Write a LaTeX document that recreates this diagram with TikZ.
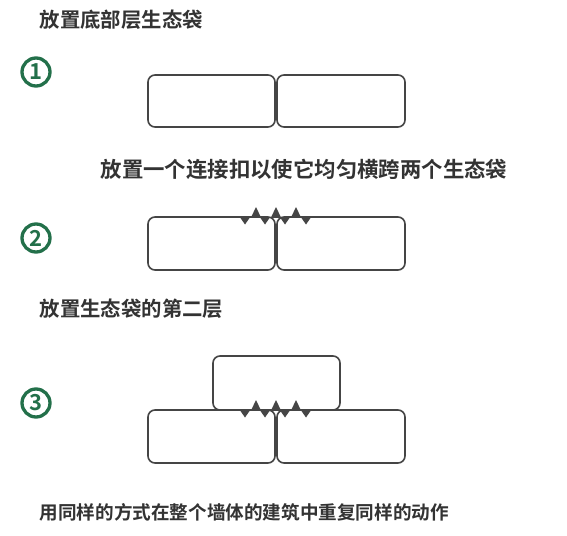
\documentclass[tikz,border=0pt]{standalone}
\usepackage{fontspec}
\newfontfamily\cjk{Noto Sans CJK SC}[BoldFont={Noto Sans CJK SC Bold}]
\definecolor{txtgray}{HTML}{333333}
\definecolor{linegray}{HTML}{454545}
\definecolor{stepgreen}{HTML}{23704A}
\tikzset{
  bag/.style={draw=linegray, line width=1.6pt, rounded corners=7pt, inner sep=0pt, fill=white},
  caption/.style={anchor=west, inner sep=0pt, text=txtgray},
  stepnum/.style={circle, draw=stepgreen, line width=3.3pt, minimum size=28pt, inner sep=0pt,
    text=stepgreen, font=\cjk\bfseries\fontsize{22}{22}\selectfont},
  connector/.pic={
    \fill[linegray] (-36,-0.2) -- (36,-0.2) -- (36,1) -- (-36,1) -- cycle;
    \foreach \u in {-20,0,20}{\fill[linegray] (\u-5,0.5) -- (\u,-10) -- (\u+5,0.5) -- cycle;}
    \foreach \d in {-31,-11,9,30}{\fill[linegray] (\d-5,0.3) -- (\d,7.5) -- (\d+5,0.3) -- cycle;}
  }
}
\begin{document}
\begin{tikzpicture}[x=1pt,y=-1pt]
\useasboundingbox[fill=white] (0,0) rectangle (567,535);
% captions
\node[caption, font=\cjk\bfseries\fontsize{20.4}{20.4}\selectfont] (t1) at (39.5,20) {放置底部层生态袋};
\node[caption, font=\cjk\bfseries\fontsize{21.4}{21.4}\selectfont] (t2) at (100.5,169) {放置一个连接扣以使它均匀横跨两个生态袋};
\node[caption, font=\cjk\bfseries\fontsize{20.4}{20.4}\selectfont] (t3) at (39.5,309) {放置生态袋的第二层};
\node[caption, font=\cjk\bfseries\fontsize{18.6}{18.6}\selectfont] (t4) at (39.5,512) {用同样的方式在整个墙体的建筑中重复同样的动作};
% step numbers
\node[stepnum] (n1) at (36,72) {1};
\node[stepnum] (n2) at (36,238) {2};
\node[stepnum] (n3) at (36,403) {3};
% row 1
\node[bag, minimum width=127pt, minimum height=52pt] (a1) at (211.5,101) {};
\node[bag, minimum width=128pt, minimum height=52pt] (a2) at (341,101) {};
% row 2
\node[bag, minimum width=127pt, minimum height=53pt] (b1) at (211.5,243.5) {};
\node[bag, minimum width=128pt, minimum height=53pt] (b2) at (341,243.5) {};
\coordinate (bc) at (276,217);
\pic at (bc) {connector};
% row 3
\node[bag, minimum width=127pt, minimum height=53pt] (c1) at (211.5,436.5) {};
\node[bag, minimum width=128pt, minimum height=53pt] (c2) at (341,436.5) {};
\node[bag, minimum width=127pt, minimum height=54pt] (c3) at (276.5,383) {};
\coordinate (cc) at (276,410);
\pic at (cc) {connector};
\end{tikzpicture}
\end{document}
